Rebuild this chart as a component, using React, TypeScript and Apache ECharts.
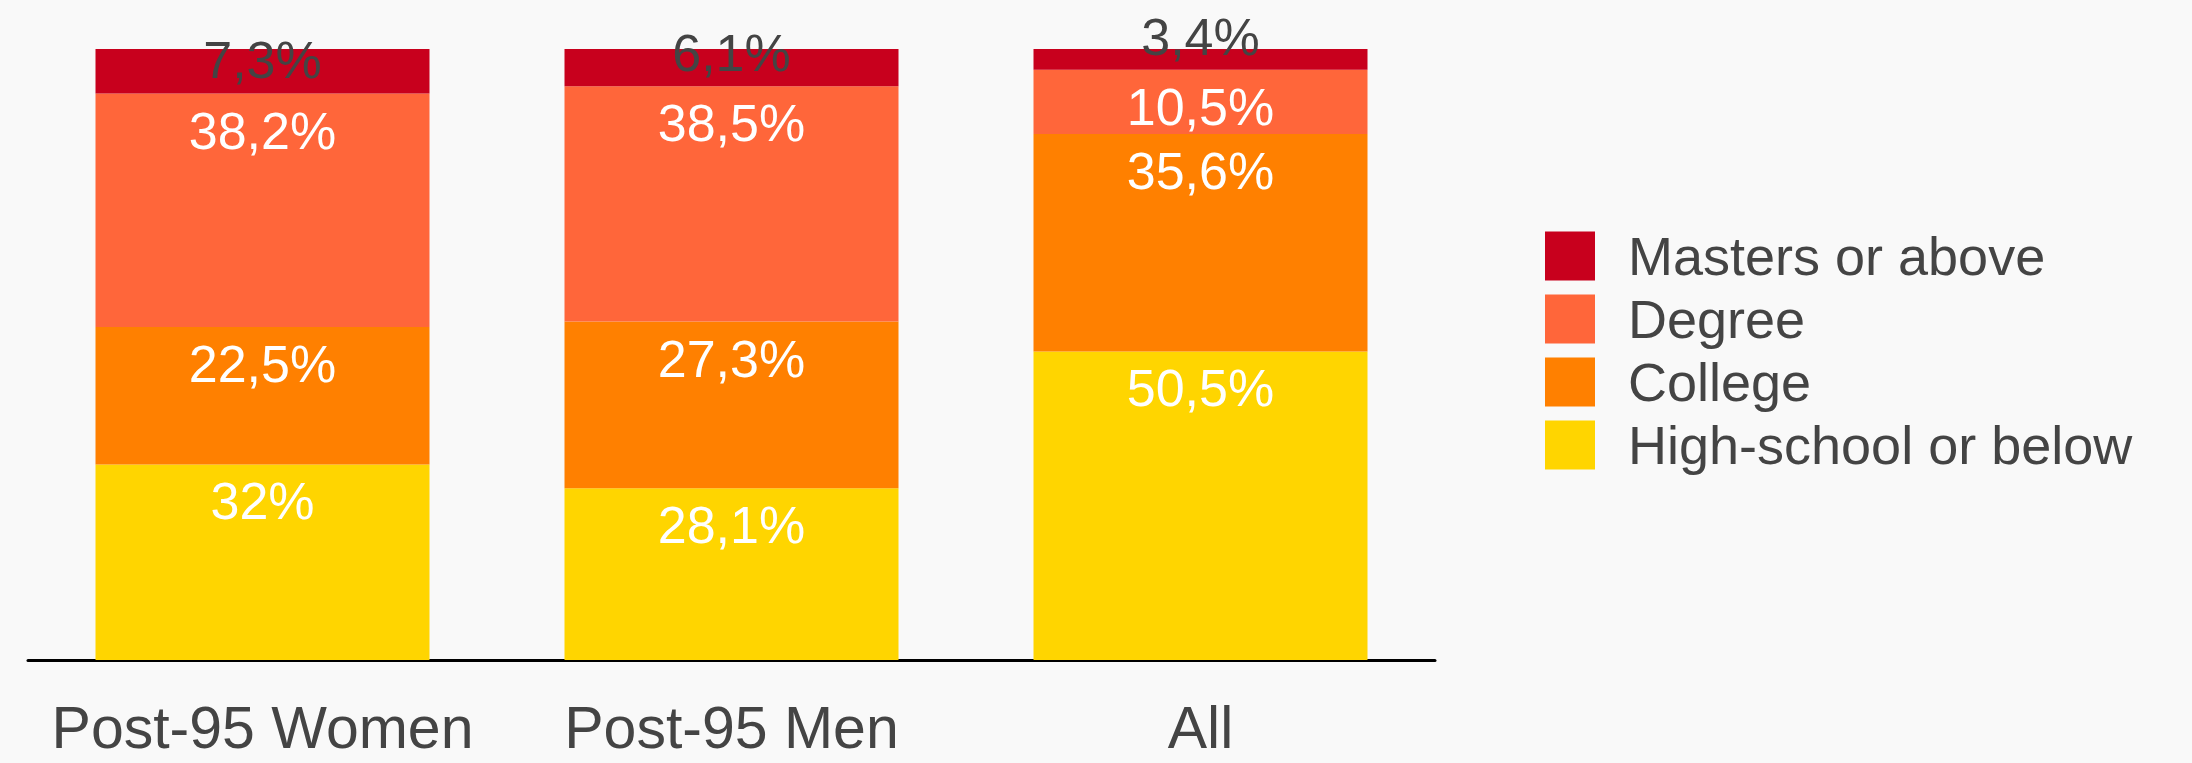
import React, { useEffect, useRef } from "react";
import * as echarts from "echarts";

const categories = ["Post-95 Women", "Post-95 Men", "All"];
const highSchool = [32, 28.1, 50.5];
const college = [22.5, 27.3, 35.6];
const degree = [38.2, 38.5, 10.5];
const masters = [7.3, 6.1, 3.4];
const seriesNames = ["High-school or below", "College", "Degree", "Masters or above"];
const legendOrder = ["Masters or above", "Degree", "College", "High-school or below"];

const colors = {
  high: "#FFD500",
  college: "#FF8000",
  degree: "#FF663A",
  masters: "#C8001D",
};
const mastersLabelLift = [-11, -15, -22];

const FONT = "'Liberation Sans', Arial, Helvetica, sans-serif";
const fmt = (v: number) => String(v).replace(".", ",") + "%";

export default function App() {
  const ref = useRef<HTMLDivElement>(null);
  useEffect(() => {
    document.body.style.margin = "0";
    const chart = echarts.init(ref.current!, null, { renderer: "svg" });
    const innerLabel = {
      show: true,
      position: "insideTop" as const,
      distance: 11,
      color: "#fff",
      fontSize: 52,
      lineHeight: 52,
      fontFamily: FONT,
      formatter: (p: any) => fmt(p.value),
    };
    const barWidth = 334;
    chart.setOption({
      animation: false,
      backgroundColor: "#F9F9F9",
      textStyle: { fontFamily: FONT },
      grid: { left: 28, right: 757, top: 49, bottom: 103, containLabel: false },
      legend: {
        orient: "vertical",
        left: 1540,
        top: 224,
        data: legendOrder,
        itemWidth: 50,
        itemHeight: 49,
        itemGap: 9,
        icon: "rect",
        textStyle: {
          fontSize: 54,
          lineHeight: 52,
          color: "#444",
          fontFamily: FONT,
          padding: [0, 0, 0, 28],
        },
        selectedMode: false,
      },
      xAxis: {
        type: "category",
        data: categories,
        axisLine: { show: true, lineStyle: { color: "#000", width: 3 } },
        axisTick: { show: false },
        axisLabel: {
          interval: 0,
          hideOverlap: false,
          color: "#444",
          fontSize: 59,
          lineHeight: 59,
          margin: 38,
          fontFamily: FONT,
        },
      },
      yAxis: {
        type: "value",
        min: 0,
        max: 100,
        show: false,
        splitLine: { show: false },
      },
      series: [
        {
          name: seriesNames[0],
          type: "bar",
          stack: "s",
          barWidth,
          data: highSchool,
          itemStyle: { color: colors.high },
          label: innerLabel,
        },
        {
          name: seriesNames[1],
          type: "bar",
          stack: "s",
          barWidth,
          data: college,
          itemStyle: { color: colors.college },
          label: innerLabel,
        },
        {
          name: seriesNames[2],
          type: "bar",
          stack: "s",
          barWidth,
          data: degree,
          itemStyle: { color: colors.degree },
          label: innerLabel,
        },
        {
          name: seriesNames[3],
          type: "bar",
          stack: "s",
          barWidth,
          data: masters.map((v, i) => ({
            value: v,
            label: { offset: [0, mastersLabelLift[i]] },
          })),
          itemStyle: { color: colors.masters },
          label: {
            show: true,
            position: "inside",
            color: "#444",
            fontSize: 52,
            lineHeight: 52,
            fontFamily: FONT,
            formatter: (p: any) => fmt(p.value),
          },
          z: 3,
        },
      ],
    });
    return () => chart.dispose();
  }, []);
  return (
    <div
      ref={ref}
      style={{ position: "fixed", left: 0, top: 0, width: 2192, height: 763 }}
    />
  );
}
